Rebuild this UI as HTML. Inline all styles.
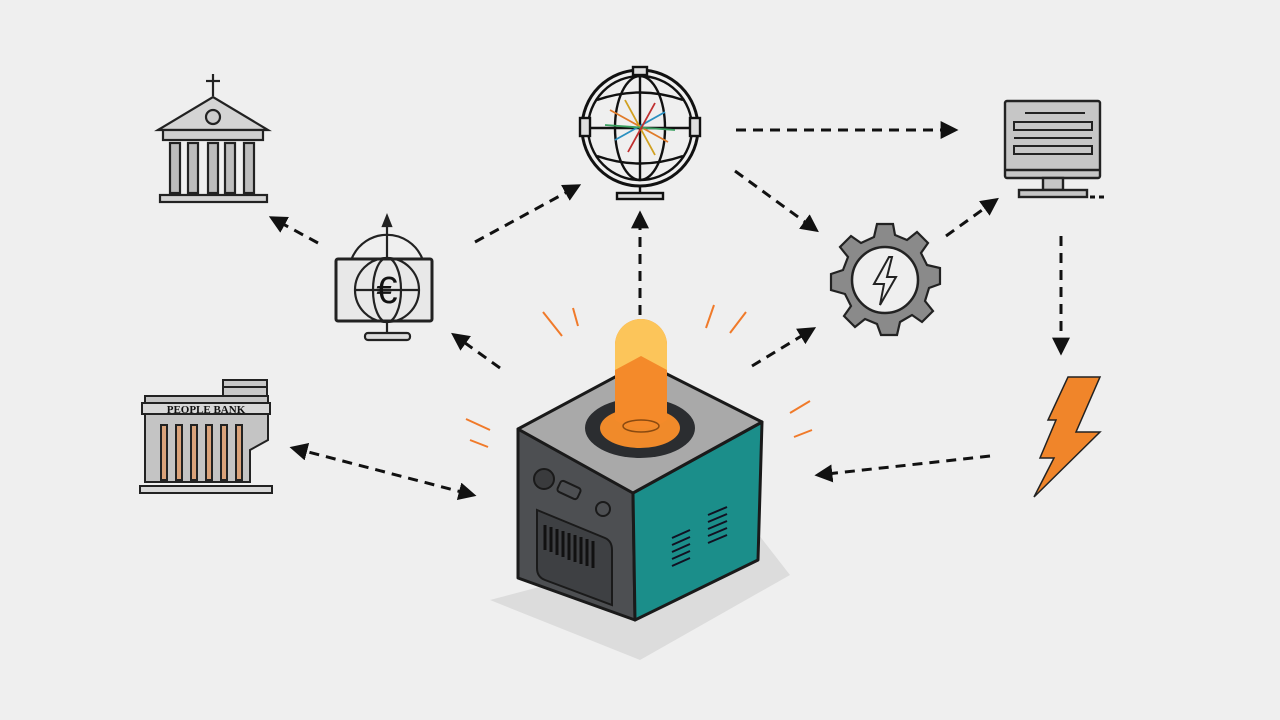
<!DOCTYPE html>
<html><head><meta charset="utf-8"><style>
html,body{margin:0;padding:0;background:#efefef;}
svg{display:block}
</style></head><body>
<svg width="1280" height="720" viewBox="0 0 1280 720" xmlns="http://www.w3.org/2000/svg">
<defs>
<marker id="ah" viewBox="0 0 10 10" refX="8" refY="5" markerWidth="6" markerHeight="6" orient="auto-start-reverse"><path d="M0,0 L10,5 L0,10 Z" fill="#111"/></marker>
</defs>
<rect width="1280" height="720" fill="#efefef"/>

<!-- arrows -->
<g stroke="#111" stroke-width="3" stroke-dasharray="10 7" fill="none" marker-end="url(#ah)">
<line x1="318" y1="243" x2="272" y2="218"/>
<line x1="475" y1="242" x2="578" y2="186"/>
<line x1="640" y1="315" x2="640" y2="214"/>
<line x1="736" y1="130" x2="955" y2="130"/>
<line x1="735" y1="171" x2="816" y2="230"/>
<line x1="946" y1="236" x2="996" y2="200"/>
<line x1="1061" y1="236" x2="1061" y2="352"/>
<line x1="990" y1="456" x2="818" y2="475"/>
<line x1="752" y1="366" x2="813" y2="329"/>
<line x1="500" y1="368" x2="454" y2="335"/>
<line x1="293" y1="448" x2="473" y2="495" marker-start="url(#ah)"/>
</g>
<line x1="1090" y1="197" x2="1104" y2="197" stroke="#111" stroke-width="3" stroke-dasharray="5 4"/>

<!-- temple -->
<g stroke="#222" stroke-width="2.2" fill="#bdbdbd">
<line x1="213" y1="74" x2="213" y2="96"/><line x1="206" y1="81" x2="220" y2="81"/>
<path d="M158,130 L213,97 L268,130 Z" fill="#d4d4d4"/>
<circle cx="213" cy="117" r="7" fill="#ccc"/>
<rect x="163" y="130" width="100" height="10" fill="#cfcfcf"/>
<rect x="170" y="143" width="10" height="50"/><rect x="188" y="143" width="10" height="50"/>
<rect x="208" y="143" width="10" height="50"/><rect x="225" y="143" width="10" height="50"/><rect x="244" y="143" width="10" height="50"/>
<rect x="160" y="195" width="107" height="7" fill="#d4d4d4"/>
</g>

<!-- euro monitor -->
<g stroke="#222" stroke-width="2.2" fill="none">
<path d="M352,258 A38,38 0 0 1 422,258"/>
<line x1="387" y1="222" x2="387" y2="258"/>
<path d="M383,226 L387,216 L391,226 Z" fill="#222"/>
<rect x="336" y="259" width="96" height="62" rx="2" fill="#e8e8e8" stroke-width="3"/>
<circle cx="387" cy="290" r="32"/>
<line x1="355" y1="290" x2="419" y2="290"/>
<ellipse cx="387" cy="290" rx="14" ry="32"/>
<line x1="387" y1="322" x2="387" y2="334"/>
<rect x="365" y="333" width="45" height="7" rx="3" fill="#ddd"/>
</g>
<text x="387" y="303" font-family="Liberation Sans, sans-serif" font-size="38" text-anchor="middle" fill="#111">€</text>

<!-- people bank -->
<g stroke="#222" stroke-width="2">
<rect x="223" y="380" width="44" height="18" fill="#c8c8c8"/>
<line x1="223" y1="387" x2="267" y2="387"/>
<path d="M145,396 L268,396 L268,440 L250,450 L250,482 L145,482 Z" fill="#c4c4c4"/>
<rect x="142" y="403" width="128" height="11" fill="#d8d8d8"/>
<g fill="#d9a27a">
<rect x="161" y="425" width="6" height="55"/><rect x="176" y="425" width="6" height="55"/><rect x="191" y="425" width="6" height="55"/>
<rect x="206" y="425" width="6" height="55"/><rect x="221" y="425" width="6" height="55"/><rect x="236" y="425" width="6" height="55"/>
</g>
<rect x="140" y="486" width="132" height="7" fill="#d8d8d8"/>
</g>
<text x="206" y="413" font-family="Liberation Serif, serif" font-weight="bold" font-size="11" text-anchor="middle" fill="#111">PEOPLE BANK</text>

<!-- globe -->
<g stroke="#111" stroke-width="2.4" fill="none">
<circle cx="640" cy="128" r="58" stroke-width="3"/>
<circle cx="640" cy="128" r="52"/>
<ellipse cx="640" cy="128" rx="25" ry="52"/>
<line x1="640" y1="76" x2="640" y2="180"/>
<line x1="588" y1="128" x2="692" y2="128"/>
<path d="M597,100 Q640,85 683,100"/><path d="M597,156 Q640,171 683,156"/>
<rect x="580" y="118" width="10" height="18" fill="#ddd"/><rect x="690" y="118" width="10" height="18" fill="#ddd"/>
<rect x="633" y="67" width="14" height="8" fill="#ddd"/>
<line x1="640" y1="186" x2="640" y2="193"/>
<rect x="617" y="193" width="46" height="6" fill="#ddd"/>
</g>
<g stroke-width="1.8">
<line x1="610" y1="110" x2="668" y2="142" stroke="#e07b2a"/>
<line x1="615" y1="140" x2="665" y2="112" stroke="#2a90c0"/>
<line x1="625" y1="100" x2="655" y2="155" stroke="#d0a020"/>
<line x1="605" y1="125" x2="675" y2="130" stroke="#3aa060"/>
<line x1="655" y1="103" x2="628" y2="152" stroke="#c03030"/>
</g>

<!-- right monitor -->
<g stroke="#222" stroke-width="2.4">
<rect x="1005" y="101" width="95" height="77" rx="2" fill="#c6c6c6"/>
<line x1="1005" y1="170" x2="1100" y2="170"/>
<g fill="none" stroke-width="2">
<line x1="1025" y1="113" x2="1085" y2="113"/>
<rect x="1014" y="122" width="78" height="8"/>
<line x1="1014" y1="138" x2="1092" y2="138"/>
<rect x="1014" y="146" width="78" height="8"/>
</g>
<rect x="1043" y="178" width="20" height="12" fill="#c6c6c6"/>
<rect x="1019" y="190" width="68" height="7" fill="#c6c6c6"/>
</g>

<!-- gear -->
<g transform="translate(885,280)">
<g fill="#8a8a8a" stroke="#222" stroke-width="2.2">
<path d="M-8,-56 L8,-56 L10,-45 L22,-40 L32,-48 L43,-37 L36,-27 L42,-15 L55,-12 L55,4 L44,8 L40,21 L48,31 L37,42 L27,35 L15,42 L12,55 L-4,55 L-8,44 L-20,39 L-30,47 L-41,36 L-34,26 L-40,14 L-54,10 L-54,-6 L-42,-10 L-37,-23 L-45,-33 L-34,-44 L-24,-37 L-11,-43 Z"/>
<circle r="33" fill="#efefef" stroke-width="2.5"/>
</g>
<path d="M4,-23 L-11,4 L-1,4 L-5,25 L11,-3 L2,-3 L7,-23 Z" fill="none" stroke="#222" stroke-width="2"/>
</g>

<!-- lightning -->
<path d="M1068,377 L1100,377 L1076,432 L1100,432 L1034,497 L1054,458 L1040,458 L1056,420 L1048,420 Z" fill="#f0852a" stroke="#222" stroke-width="1.5"/>

<!-- cube shadow -->
<path d="M490,600 L640,660 L790,575 L755,530 Z" fill="#dcdcdc"/>
<!-- cube -->
<g stroke="#1a1a1a" stroke-width="3" stroke-linejoin="round">
<path d="M518,429 L633,493 L635,620 L518,578 Z" fill="#4d4f52"/>
<path d="M633,493 L762,422 L758,560 L635,620 Z" fill="#1b8e8a"/>
<path d="M518,429 L643,362 L762,422 L633,493 Z" fill="#a9a9a9"/>
</g>
<!-- cube details -->
<g stroke="#1a1a1a" stroke-width="2">
<circle cx="544" cy="479" r="10" fill="#3a3b3d"/>
<rect x="558" y="484" width="22" height="12" rx="3" fill="#4d4f52" transform="rotate(25 569 490)"/>
<circle cx="603" cy="509" r="7" fill="#4d4f52"/>
<path d="M537,510 L605,538 Q612,541 612,550 L612,605 L545,580 Q537,577 537,568 Z" fill="#3e4043"/>
</g>
<g stroke="#111" stroke-width="3">
<line x1="545" y1="525" x2="545" y2="550"/><line x1="551" y1="527" x2="551" y2="552"/><line x1="557" y1="529" x2="557" y2="555"/><line x1="563" y1="531" x2="563" y2="557"/><line x1="569" y1="533" x2="569" y2="560"/><line x1="575" y1="535" x2="575" y2="562"/><line x1="581" y1="537" x2="581" y2="564"/><line x1="587" y1="539" x2="587" y2="566"/><line x1="593" y1="541" x2="593" y2="568"/>
</g>
<g stroke="#112" stroke-width="2">
<line x1="672" y1="538" x2="690" y2="530"/><line x1="672" y1="545" x2="690" y2="537"/><line x1="672" y1="552" x2="690" y2="544"/><line x1="672" y1="559" x2="690" y2="551"/><line x1="672" y1="566" x2="690" y2="558"/>
<line x1="708" y1="515" x2="727" y2="507"/><line x1="708" y1="522" x2="727" y2="514"/><line x1="708" y1="529" x2="727" y2="521"/><line x1="708" y1="536" x2="727" y2="528"/><line x1="708" y1="543" x2="727" y2="535"/>
</g>
<!-- ring & bulb -->
<ellipse cx="640" cy="428" rx="55" ry="30" fill="#2b2d30"/>
<ellipse cx="640" cy="428" rx="40" ry="20" fill="#f08a2a"/>
<path d="M615,345 A26,26 0 0 1 667,345 L667,420 Q641,437 615,420 Z" fill="#f48a2a"/>
<path d="M615,345 A26,26 0 0 1 667,345 L667,370 L641,356 L615,370 Z" fill="#fcc55a"/>
<ellipse cx="641" cy="426" rx="18" ry="6" fill="none" stroke="#8a4a10" stroke-width="1.5"/>
<!-- glow marks -->
<g stroke="#f07a2a" stroke-width="2" fill="none">
<line x1="543" y1="312" x2="562" y2="336"/><line x1="573" y1="308" x2="578" y2="326"/>
<line x1="714" y1="305" x2="706" y2="328"/><line x1="746" y1="312" x2="730" y2="333"/>
<line x1="466" y1="419" x2="490" y2="430"/><line x1="470" y1="440" x2="488" y2="447"/>
<line x1="790" y1="413" x2="810" y2="401"/><line x1="794" y1="437" x2="812" y2="430"/>
</g>
</svg>
</body></html>
